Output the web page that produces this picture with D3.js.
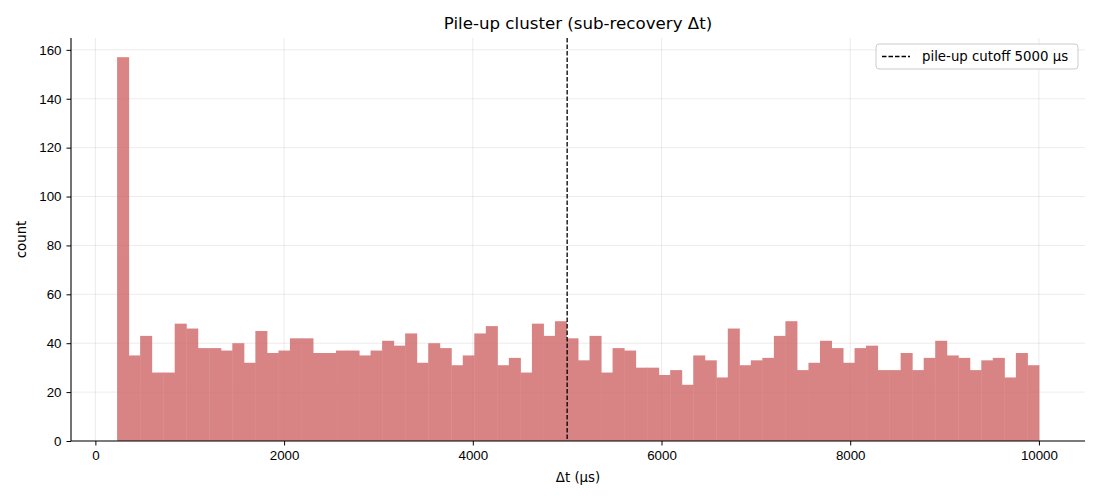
<!DOCTYPE html>
<html>
<head>
<meta charset="utf-8">
<script src="https://cdn.jsdelivr.net/npm/d3@7"></script>
<style>
  body { margin: 0; background: #fff; }
  svg { font-family: "DejaVu Sans", sans-serif; }
</style>
</head>
<body>
<div class="chart"></div>
<script>
/*------------------------------- data -------------------------------*/

// histogram of sub-recovery Δt, 80 equal bins from 230 to 10000 µs
const binStart = 230;
const binEnd = 10000;
const counts = [
    157, 35, 43, 28, 28, 48, 46, 38, 38, 37,
    40, 32, 45, 36, 37, 42, 42, 36, 36, 37,
    37, 35, 37, 41, 39, 44, 32, 40, 38, 31,
    35, 44, 47, 31, 34, 28, 48, 43, 49, 42,
    33, 43, 28, 38, 37, 30, 30, 27, 29, 23,
    35, 33, 26, 46, 31, 33, 34, 43, 49, 29,
    32, 41, 38, 32, 38, 39, 29, 29, 36, 29,
    34, 41, 35, 34, 29, 33, 34, 26, 36, 31
];
const cutoff = 5000;
const xTicks = [0, 2000, 4000, 6000, 8000, 10000];
const yTicks = [0, 20, 40, 60, 80, 100, 120, 140, 160];

const size = { width: 1100, height: 500 };
const margin = { top: 38, right: 15, bottom: 59, left: 71 };

/*------------------------------- svg -------------------------------*/

const svg = d3.select(".chart").append("svg")
    .attr("width", size.width)
    .attr("height", size.height);

const plotW = size.width - margin.left - margin.right;
const plotH = size.height - margin.top - margin.bottom;

const span = binEnd - binStart;
const x = d3.scaleLinear()
    .domain([binStart - span * 0.05, binEnd + span * 0.05])
    .range([margin.left, margin.left + plotW]);

const y = d3.scaleLinear()
    .domain([0, d3.max(counts) * 1.05])
    .range([margin.top + plotH, margin.top]);

const binW = span / counts.length;
const bins = counts.map((c, i) => ({ x0: binStart + i * binW, x1: binStart + (i + 1) * binW, count: c }));

//grid
const grid = svg.append("g");
grid.selectAll(".gx").data(xTicks).enter().append("line")
    .attr("x1", d => x(d)).attr("x2", d => x(d))
    .attr("y1", margin.top).attr("y2", margin.top + plotH)
    .attr("stroke", "#b0b0b0").attr("stroke-opacity", 0.3).attr("stroke-width", 0.8);
grid.selectAll(".gy").data(yTicks).enter().append("line")
    .attr("x1", margin.left).attr("x2", margin.left + plotW)
    .attr("y1", d => y(d)).attr("y2", d => y(d))
    .attr("stroke", "#b0b0b0").attr("stroke-opacity", 0.3).attr("stroke-width", 0.8);

//bars - opacity on the group so touching bars don't leave seams
svg.append("g")
    .attr("opacity", 0.75)
    .selectAll("rect")
    .data(bins)
    .enter()
    .append("rect")
    .attr("x", d => x(d.x0))
    .attr("y", d => y(d.count))
    .attr("width", d => x(d.x1) - x(d.x0) + 0.5)
    .attr("height", d => y(0) - y(d.count))
    .attr("fill", "#cd5c5c");

//cutoff line
svg.append("line")
    .attr("x1", x(cutoff)).attr("x2", x(cutoff))
    .attr("y1", margin.top).attr("y2", margin.top + plotH)
    .attr("stroke", "black").attr("stroke-width", 1.3)
    .attr("stroke-dasharray", "4.5,2");

/*------------------------------- axes -------------------------------*/

const xAxis = svg.append("g")
    .attr("transform", `translate(0,${margin.top + plotH})`)
    .call(d3.axisBottom(x).tickValues(xTicks).tickFormat(d3.format("d")).tickSize(4.5).tickPadding(5));
const yAxis = svg.append("g")
    .attr("transform", `translate(${margin.left},0)`)
    .call(d3.axisLeft(y).tickValues(yTicks).tickSize(4.5).tickPadding(5));

[xAxis, yAxis].forEach(a => {
    a.selectAll("text").style("font-size", "13.33px").attr("fill", "#000");
    a.selectAll("line").attr("stroke", "#000").attr("stroke-width", 1);
    a.select(".domain").attr("stroke", "#000").attr("stroke-width", 1.1);
});
xAxis.select(".domain").attr("d", `M${margin.left},0H${margin.left + plotW}`);
yAxis.select(".domain").attr("d", `M0,${margin.top + plotH}V${margin.top}`);

//labels
svg.append("text")
    .attr("x", margin.left + plotW / 2).attr("y", 29)
    .attr("text-anchor", "middle")
    .style("font-size", "16.67px")
    .text("Pile-up cluster (sub-recovery Δt)");

svg.append("text")
    .attr("x", margin.left + plotW / 2).attr("y", 482)
    .attr("text-anchor", "middle")
    .style("font-size", "13.33px")
    .text("Δt (µs)");

svg.append("text")
    .attr("transform", `translate(26,${margin.top + plotH / 2}) rotate(-90)`)
    .attr("text-anchor", "middle")
    .style("font-size", "13.33px")
    .text("count");

/*------------------------------- legend -------------------------------*/

const legend = svg.append("g").attr("transform", "translate(876,44)");
legend.append("rect")
    .attr("width", 202).attr("height", 25).attr("rx", 3)
    .attr("fill", "white").attr("fill-opacity", 0.8)
    .attr("stroke", "#cccccc");
legend.append("line")
    .attr("x1", 6).attr("x2", 34).attr("y1", 12.5).attr("y2", 12.5)
    .attr("stroke", "black").attr("stroke-width", 1.3)
    .attr("stroke-dasharray", "4.5,2");
legend.append("text")
    .attr("x", 46).attr("y", 17)
    .style("font-size", "13.33px")
    .text(`pile-up cutoff ${cutoff} µs`);
</script>
</body>
</html>
